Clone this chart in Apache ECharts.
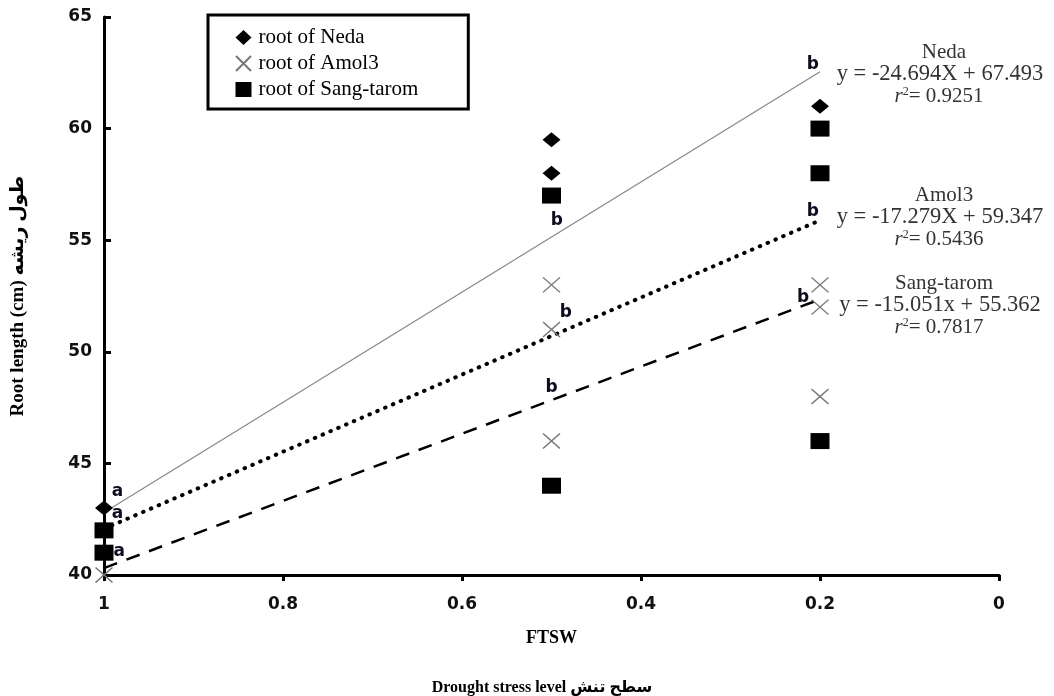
<!DOCTYPE html>
<html>
<head>
<meta charset="utf-8">
<script src="https://cdn.jsdelivr.net/npm/echarts@6/dist/echarts.min.js"></script>
<style>
html,body{margin:0;padding:0;background:#fff;}
#chart{width:1054px;height:696px;}
</style>
</head>
<body>
<div id="chart"></div>
<script>
// ---- data ----
const xTicks = [0, 0.2, 0.4, 0.6, 0.8, 1];
const nedaX = [1, 0.5, 0.5, 0.2];
const nedaY = [43, 59.5, 58, 61];
const amolX = [1, 0.5, 0.5, 0.5, 0.2, 0.2, 0.2];
const amolY = [40, 53, 51, 46, 53, 52, 48];
const sangX = [1, 1, 0.5, 0.5, 0.2, 0.2, 0.2];
const sangY = [42, 41, 57, 44, 60, 58, 46];

const trendX = [1, 0.2];
const nedaTrend = [42.8, 62.55];
const amolTrend = [42.07, 55.89];
const sangTrend = [40.31, 52.35];

const letterX = [0.985, 0.985, 0.983, 0.494, 0.484, 0.5, 0.208, 0.208, 0.219];
const letterY = [43.72, 42.73, 41.03, 55.9, 51.74, 48.38, 62.85, 56.26, 52.45];
const letterText = ['a', 'a', 'a', 'b', 'b', 'b', 'b', 'b', 'b'];

const legendNames = ['root of Neda', 'root of Amol3', 'root of Sang-tarom'];
const eqNames = ['Neda', 'Amol3', 'Sang-tarom'];
const eqText = ['y = -24.694X + 67.493', 'y = -17.279X + 59.347', 'y = -15.051x + 55.362'];
const r2Text = ['0.9251', '0.5436', '0.7817'];

// ---- helpers ----
const zip = (xs, ys) => xs.map((x, i) => [x, ys[i]]);
const serif = "'Liberation Serif', 'Times New Roman', 'DejaVu Sans', serif";
const sans = "'DejaVu Sans', Verdana, sans-serif";
const crossPath = 'path://M0,0L10,10M10,0L0,10';

// equation block layout (pixels)
const eqCenterX = 941;
const eqTops = [52, 195, 283];
const eqGraphics = [];
eqNames.forEach((n, i) => {
  const y0 = eqTops[i];
  eqGraphics.push({type: 'text', x: eqCenterX + 3, y: y0, style: {text: n, font: '21px ' + serif, fill: '#333', textAlign: 'center', textVerticalAlign: 'middle'}});
  eqGraphics.push({type: 'text', x: eqCenterX - 1, y: y0 + 22, style: {text: eqText[i], font: '22.5px ' + serif, fill: '#333', textAlign: 'center', textVerticalAlign: 'middle'}});
  eqGraphics.push({type: 'text', x: eqCenterX - 2, y: y0 + 44, style: {
    text: '{i|r}{s|2}{n|= ' + r2Text[i] + '}',
    textAlign: 'center', textVerticalAlign: 'middle',
    rich: {
      i: {font: 'italic 21px ' + serif, fill: '#333'},
      s: {font: '12px ' + serif, fill: '#333', verticalAlign: 'top', padding: [0, 0, 8, 0]},
      n: {font: '21px ' + serif, fill: '#333'}
    }
  }});
});
eqGraphics.push({type: 'text', x: 542, y: 688, style: {text: 'Drought stress level سطح تنش', font: 'bold 16px ' + serif, fill: '#000', textAlign: 'center', textVerticalAlign: 'middle'}});

const chart = echarts.init(document.getElementById('chart'), null, {renderer: 'canvas'});
chart.setOption({
  backgroundColor: '#fff',
  animation: false,
  grid: {left: 104, right: 55, top: 17, bottom: 121},
  legend: {
    data: legendNames,
    orient: 'vertical',
    left: 208, top: 15,
    padding: [12, 50, 9, 27],
    itemGap: 5,
    itemWidth: 16, itemHeight: 15,
    borderColor: '#000', borderWidth: 3,
    textStyle: {fontFamily: serif, fontSize: 21, color: '#000', padding: [0, 0, 0, 2]}
  },
  xAxis: {
    type: 'value', inverse: true, min: 0, max: 1, interval: 0.2,
    name: 'FTSW', nameLocation: 'middle', nameGap: 54,
    nameTextStyle: {fontFamily: serif, fontWeight: 'bold', fontSize: 18, color: '#000'},
    axisLine: {show: true, onZero: false, lineStyle: {color: '#000', width: 3}},
    axisTick: {show: true, inside: false, length: 6, lineStyle: {color: '#000', width: 3}},
    axisLabel: {fontFamily: sans, fontWeight: 'bold', fontSize: 17, color: '#111', margin: 21},
    splitLine: {show: false}
  },
  yAxis: {
    type: 'value', min: 40, max: 65, interval: 5,
    name: 'Root length (cm) طول ریشه', nameLocation: 'middle', nameGap: 76, nameRotate: 90,
    nameTextStyle: {fontFamily: serif, fontWeight: 'bold', fontSize: 19, color: '#000'},
    axisLine: {show: true, onZero: false, lineStyle: {color: '#000', width: 3}},
    axisTick: {show: true, inside: true, length: 7, lineStyle: {color: '#000', width: 3}},
    axisLabel: {fontFamily: sans, fontWeight: 'bold', fontSize: 17, color: '#111', margin: 12},
    splitLine: {show: false}
  },
  graphic: eqGraphics,
  series: [
    {name: 'Neda trend', type: 'line', data: zip(trendX, nedaTrend), showSymbol: false, silent: true,
     lineStyle: {color: '#8a8a8a', width: 1.3}, z: 1},
    {name: 'Amol3 trend', type: 'line', data: zip(trendX, amolTrend), showSymbol: false, silent: true,
     lineStyle: {color: '#000', width: 4, type: [0.5, 8], cap: 'round'}, z: 1},
    {name: 'Sang-tarom trend', type: 'line', data: zip(trendX, sangTrend), showSymbol: false, silent: true,
     lineStyle: {color: '#000', width: 2.5, type: [14, 10]}, z: 1},
    {name: legendNames[0], type: 'scatter', data: zip(nedaX, nedaY), symbol: 'diamond', symbolSize: [18, 15],
     itemStyle: {color: '#000', opacity: 1}, z: 3},
    {name: legendNames[1], type: 'scatter', data: zip(amolX, amolY), symbol: crossPath, symbolSize: [17, 15],
     itemStyle: {color: 'rgba(0,0,0,0)', borderColor: '#777', borderWidth: 1.4, opacity: 1}, z: 3},
    {name: legendNames[2], type: 'scatter', data: zip(sangX, sangY), symbol: 'rect', symbolSize: [19, 16],
     itemStyle: {color: '#000', opacity: 1}, z: 3},
    {name: 'letters', type: 'scatter', silent: true, symbolSize: 1,
     data: letterX.map((x, i) => [x, letterY[i], letterText[i]]),
     itemStyle: {color: 'rgba(0,0,0,0)', opacity: 1},
     label: {show: true, position: 'inside', formatter: p => p.data[2], fontFamily: sans, fontWeight: 'bold', fontSize: 17, color: '#0d0d20'},
     z: 4}
  ]
});
</script>
</body>
</html>
